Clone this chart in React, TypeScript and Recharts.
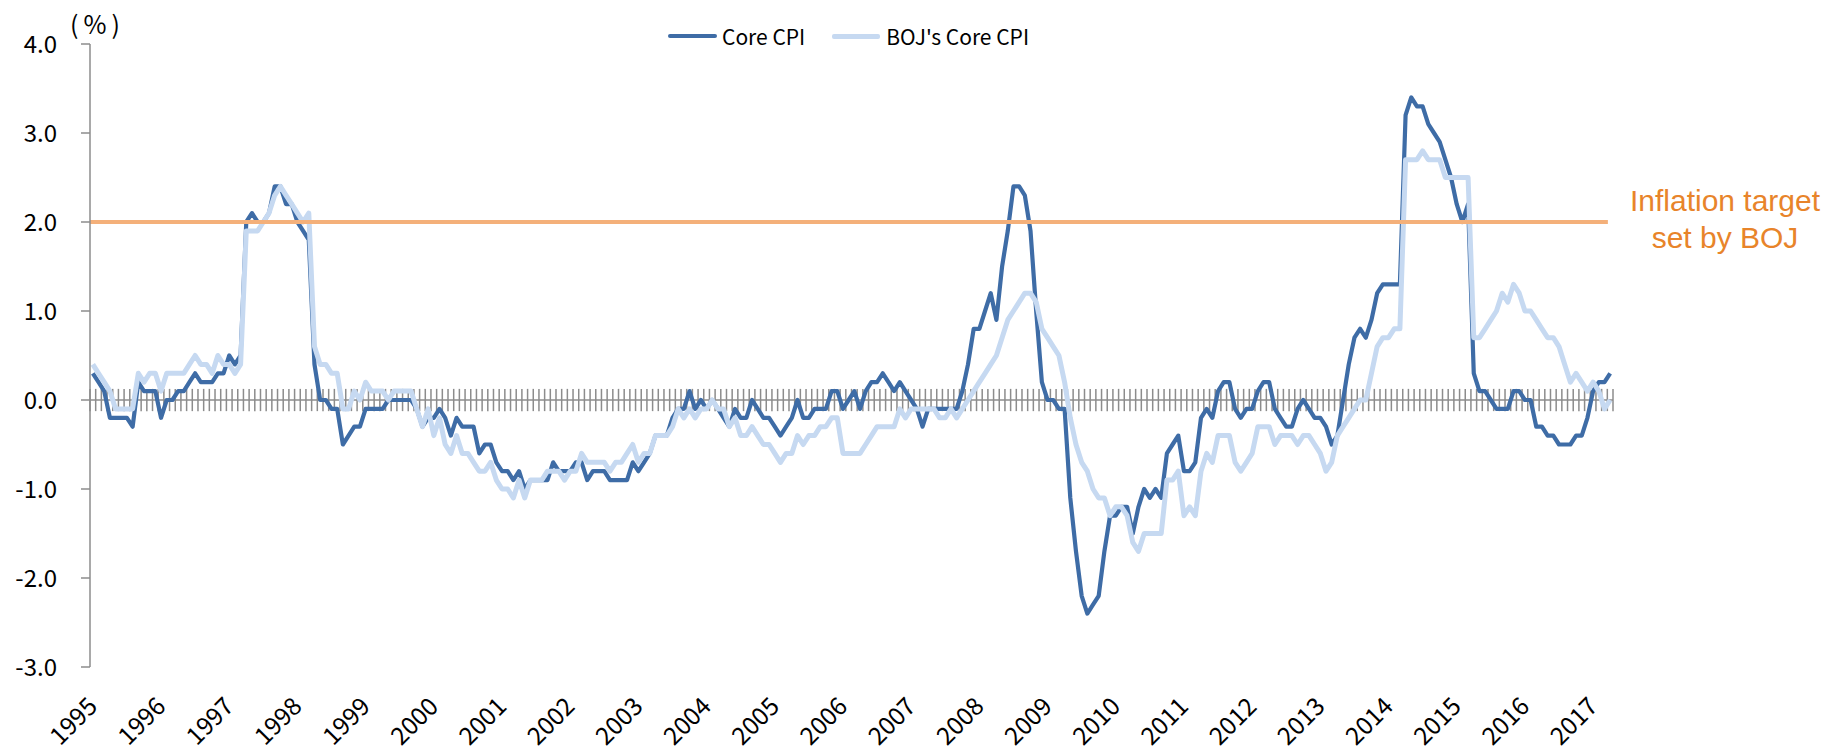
import React from 'react';
import { LineChart, Line, XAxis, YAxis, ReferenceLine } from 'recharts';

// Monthly data, Jan 1995 - Apr 2017 (y/y %)
const years = [1995, 1996, 1997, 1998, 1999, 2000, 2001, 2002, 2003, 2004, 2005, 2006, 2007, 2008, 2009, 2010, 2011, 2012, 2013, 2014, 2015, 2016, 2017];

const coreCPI = [
  0.3, 0.2, 0.1, -0.2, -0.2, -0.2, -0.2, -0.3, 0.2, 0.1, 0.1, 0.1,
  -0.2, 0.0, 0.0, 0.1, 0.1, 0.2, 0.3, 0.2, 0.2, 0.2, 0.3, 0.3,
  0.5, 0.4, 0.5, 2.0, 2.1, 2.0, 2.0, 2.1, 2.4, 2.4, 2.2, 2.2,
  2.0, 1.9, 1.8, 0.4, 0.0, 0.0, -0.1, -0.1, -0.5, -0.4, -0.3, -0.3,
  -0.1, -0.1, -0.1, -0.1, 0.0, 0.0, 0.0, 0.0, 0.0, -0.1, -0.3, -0.2,
  -0.2, -0.1, -0.2, -0.4, -0.2, -0.3, -0.3, -0.3, -0.6, -0.5, -0.5, -0.7,
  -0.8, -0.8, -0.9, -0.8, -1.0, -0.9, -0.9, -0.9, -0.9, -0.7, -0.8, -0.8,
  -0.8, -0.7, -0.7, -0.9, -0.8, -0.8, -0.8, -0.9, -0.9, -0.9, -0.9, -0.7,
  -0.8, -0.7, -0.6, -0.4, -0.4, -0.4, -0.2, -0.1, -0.1, 0.1, -0.1, 0.0,
  -0.1, 0.0, -0.1, -0.2, -0.3, -0.1, -0.2, -0.2, 0.0, -0.1, -0.2, -0.2,
  -0.3, -0.4, -0.3, -0.2, 0.0, -0.2, -0.2, -0.1, -0.1, -0.1, 0.1, 0.1,
  -0.1, 0.0, 0.1, -0.1, 0.1, 0.2, 0.2, 0.3, 0.2, 0.1, 0.2, 0.1,
  0.0, -0.1, -0.3, -0.1, -0.1, -0.1, -0.1, -0.1, -0.1, 0.1, 0.4, 0.8,
  0.8, 1.0, 1.2, 0.9, 1.5, 1.9, 2.4, 2.4, 2.3, 1.9, 1.0, 0.2,
  0.0, 0.0, -0.1, -0.1, -1.1, -1.7, -2.2, -2.4, -2.3, -2.2, -1.7, -1.3,
  -1.3, -1.2, -1.2, -1.5, -1.2, -1.0, -1.1, -1.0, -1.1, -0.6, -0.5, -0.4,
  -0.8, -0.8, -0.7, -0.2, -0.1, -0.2, 0.1, 0.2, 0.2, -0.1, -0.2, -0.1,
  -0.1, 0.1, 0.2, 0.2, -0.1, -0.2, -0.3, -0.3, -0.1, 0.0, -0.1, -0.2,
  -0.2, -0.3, -0.5, -0.4, 0.0, 0.4, 0.7, 0.8, 0.7, 0.9, 1.2, 1.3,
  1.3, 1.3, 1.3, 3.2, 3.4, 3.3, 3.3, 3.1, 3.0, 2.9, 2.7, 2.5,
  2.2, 2.0, 2.2, 0.3, 0.1, 0.1, 0.0, -0.1, -0.1, -0.1, 0.1, 0.1,
  0.0, 0.0, -0.3, -0.3, -0.4, -0.4, -0.5, -0.5, -0.5, -0.4, -0.4, -0.2,
  0.1, 0.2, 0.2, 0.3,
];

const bojCoreCPI = [
  0.4, 0.3, 0.2, 0.1, -0.1, -0.1, -0.1, -0.1, 0.3, 0.2, 0.3, 0.3,
  0.1, 0.3, 0.3, 0.3, 0.3, 0.4, 0.5, 0.4, 0.4, 0.3, 0.5, 0.4,
  0.4, 0.3, 0.4, 1.9, 1.9, 1.9, 2.0, 2.1, 2.3, 2.4, 2.3, 2.2,
  2.1, 2.0, 2.1, 0.6, 0.4, 0.4, 0.3, 0.3, -0.1, -0.1, 0.1, 0.0,
  0.2, 0.1, 0.1, 0.1, 0.0, 0.1, 0.1, 0.1, 0.1, -0.1, -0.3, -0.1,
  -0.4, -0.2, -0.5, -0.6, -0.4, -0.6, -0.6, -0.7, -0.8, -0.8, -0.7, -0.9,
  -1.0, -1.0, -1.1, -0.9, -1.1, -0.9, -0.9, -0.9, -0.8, -0.8, -0.8, -0.9,
  -0.8, -0.8, -0.6, -0.7, -0.7, -0.7, -0.7, -0.8, -0.7, -0.7, -0.6, -0.5,
  -0.7, -0.6, -0.6, -0.4, -0.4, -0.4, -0.3, -0.1, -0.2, -0.1, -0.2, -0.1,
  -0.1, 0.0, -0.1, -0.1, -0.3, -0.2, -0.4, -0.4, -0.3, -0.4, -0.5, -0.5,
  -0.6, -0.7, -0.6, -0.6, -0.4, -0.5, -0.4, -0.4, -0.3, -0.3, -0.2, -0.2,
  -0.6, -0.6, -0.6, -0.6, -0.5, -0.4, -0.3, -0.3, -0.3, -0.3, -0.1, -0.2,
  -0.1, -0.1, -0.1, -0.1, -0.1, -0.2, -0.2, -0.1, -0.2, -0.1, 0.0, 0.1,
  0.2, 0.3, 0.4, 0.5, 0.7, 0.9, 1.0, 1.1, 1.2, 1.2, 1.1, 0.8,
  0.7, 0.6, 0.5, 0.2, -0.2, -0.5, -0.7, -0.8, -1.0, -1.1, -1.1, -1.3,
  -1.2, -1.2, -1.3, -1.6, -1.7, -1.5, -1.5, -1.5, -1.5, -0.9, -0.9, -0.8,
  -1.3, -1.2, -1.3, -0.8, -0.6, -0.7, -0.4, -0.4, -0.4, -0.7, -0.8, -0.7,
  -0.6, -0.3, -0.3, -0.3, -0.5, -0.4, -0.4, -0.4, -0.5, -0.4, -0.4, -0.5,
  -0.6, -0.8, -0.7, -0.4, -0.3, -0.2, -0.1, 0.0, 0.0, 0.3, 0.6, 0.7,
  0.7, 0.8, 0.8, 2.7, 2.7, 2.7, 2.8, 2.7, 2.7, 2.7, 2.5, 2.5,
  2.5, 2.5, 2.5, 0.7, 0.7, 0.8, 0.9, 1.0, 1.2, 1.1, 1.3, 1.2,
  1.0, 1.0, 0.9, 0.8, 0.7, 0.7, 0.6, 0.4, 0.2, 0.3, 0.2, 0.1,
  0.2, 0.1, -0.1, 0.0,
];

const yTicks = [-3, -2, -1, 0, 1, 2, 3, 4];
const inflationTarget = 2.0;
const seriesNames = ['Core CPI', "BOJ's Core CPI"];

const DARK = '#3E6CA6';
const LIGHT = '#C6D9F1';
const ORANGE_LINE = '#F4B07A';
const ORANGE_TEXT = '#E8842A';
const GRAY = '#8C8C8C';
const JP_FONT = "'Noto Sans CJK JP', 'Noto Sans', sans-serif";

const nMonths = coreCPI.length;
// category i sits in the middle of its monthly slot
const data = coreCPI.map((v, i) => ({ x: i + 0.5, core: v, boj: bojCoreCPI[i] }));
const monthBoundaries = Array.from({ length: nMonths + 1 }, (_, k) => k);
const yearTicks = years.map((_, k) => k * 12 + 0.5);

const YearTick = (props: any) => {
  const { x, y, payload } = props;
  const idx = Math.round((payload.value - 0.5) / 12);
  const ax = x + 6;
  const ay = y + 41;
  return (
    <text
      x={ax}
      y={ay}
      transform={`rotate(-45, ${ax}, ${ay})`}
      textAnchor="end"
      fontSize={24.5}
      fontFamily={JP_FONT}
      fill="#000"
    >
      {years[idx]}
    </text>
  );
};

export default function App() {
  const W = 1841;
  const H = 754;
  return (
    <div style={{ position: 'absolute', left: 0, top: 0, width: W, height: H, background: '#fff', overflow: 'hidden' }}>
      <LineChart width={W} height={H} data={data} margin={{ top: 44, right: 228, bottom: 0, left: 0 }}>
        <XAxis
          type="number"
          dataKey="x"
          domain={[0, nMonths]}
          ticks={yearTicks}
          interval={0}
          tick={<YearTick />}
          tickLine={false}
          axisLine={false}
          tickSize={0}
          tickMargin={0}
          height={87}
          allowDataOverflow
        />
        <YAxis
          type="number"
          domain={[-3, 4]}
          ticks={yTicks}
          interval={0}
          tickFormatter={(v: number) => v.toFixed(1)}
          width={90}
          tickSize={9}
          tickMargin={24}
          tick={{ fontSize: 24, fill: '#000', fontFamily: JP_FONT }}
          axisLine={{ stroke: GRAY, strokeWidth: 1.5 }}
          tickLine={{ stroke: GRAY, strokeWidth: 1.5 }}
          allowDataOverflow
        />
        <ReferenceLine y={0} stroke={GRAY} strokeWidth={1.5} />
        {monthBoundaries.map((k) => (
          <ReferenceLine
            key={`m${k}`}
            segment={[{ x: k, y: -0.125 }, { x: k, y: 0.125 }]}
            stroke={GRAY}
            strokeWidth={1.5}
          />
        ))}
        <Line
          type="linear"
          dataKey="core"
          name={seriesNames[0]}
          stroke={DARK}
          strokeWidth={4.2}
          dot={false}
          activeDot={false}
          isAnimationActive={false}
          strokeLinejoin="round"
        />
        <Line
          type="linear"
          dataKey="boj"
          name={seriesNames[1]}
          stroke={LIGHT}
          strokeWidth={5}
          dot={false}
          activeDot={false}
          isAnimationActive={false}
          strokeLinejoin="round"
        />
        <ReferenceLine
          segment={[{ x: 0, y: inflationTarget }, { x: nMonths - 0.9, y: inflationTarget }]}
          stroke={ORANGE_LINE}
          strokeWidth={4}
        />
      </LineChart>

      {/* unit label */}
      <div style={{ position: 'absolute', left: 70, top: 7, fontSize: 25, fontFamily: JP_FONT, color: '#000', lineHeight: '32px', letterSpacing: '5px', whiteSpace: 'nowrap' }}>
        (%)
      </div>

      {/* legend */}
      <div style={{ position: 'absolute', left: 668, top: 21, height: 30, display: 'flex', alignItems: 'center', fontFamily: JP_FONT, fontSize: 21, color: '#000', whiteSpace: 'nowrap' }}>
        <div style={{ width: 49, height: 4, background: DARK, borderRadius: 2 }} />
        <span style={{ marginLeft: 5 }}>{seriesNames[0]}</span>
        <div style={{ width: 48, height: 5, background: LIGHT, borderRadius: 2, marginLeft: 27 }} />
        <span style={{ marginLeft: 6 }}>{seriesNames[1]}</span>
      </div>

      {/* annotation */}
      <div style={{ position: 'absolute', left: 1612, top: 182, width: 226, textAlign: 'center', fontFamily: "'Liberation Sans', Arial, sans-serif", fontSize: 30, lineHeight: '37px', color: ORANGE_TEXT }}>
        Inflation target<br />set by BOJ
      </div>
    </div>
  );
}
